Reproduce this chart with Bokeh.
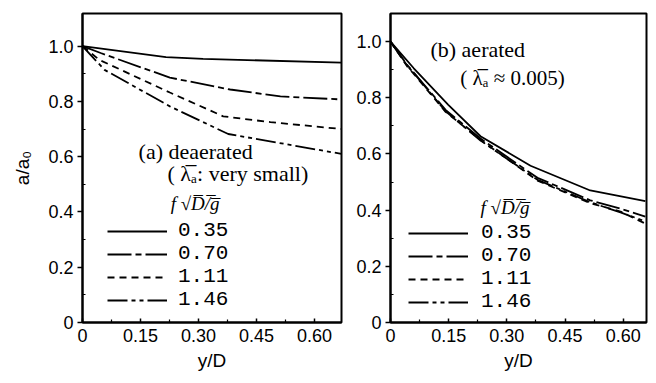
from bokeh.plotting import figure
from bokeh.layouts import row
from bokeh.models import FixedTicker, Range1d, Label, Legend, LegendItem
from bokeh.embed import file_html
from bokeh.resources import INLINE

# Dimensionless frequency f*sqrt(D/g) for each curve
freqs = ["0.35", "0.70", "1.11", "1.46"]
dashes = ["solid", "24 4 6 4", "7 5", "20 4 4 4 4 4"]

# (a) deaerated: amplitude ratio a/a0 against depth y/D
a_x_035 = [0, 0.216, 0.312, 0.67]
a_y_035 = [1.0, 0.96, 0.954, 0.94]
a_x_070 = [0, 0.047, 0.226, 0.382, 0.512, 0.67]
a_y_070 = [1.0, 0.975, 0.886, 0.843, 0.818, 0.807]
a_x_111 = [0, 0.044, 0.226, 0.364, 0.486, 0.67]
a_y_111 = [1.0, 0.95, 0.832, 0.746, 0.725, 0.70]
a_x_146 = [0, 0.057, 0.226, 0.377, 0.67]
a_y_146 = [1.0, 0.914, 0.782, 0.682, 0.61]

# (b) aerated
b_x_035 = [0, 0.06, 0.149, 0.232, 0.361, 0.515, 0.657]
b_y_035 = [1.0, 0.905, 0.775, 0.663, 0.558, 0.47, 0.432]
b_x_rest = [0, 0.044, 0.06, 0.142, 0.232, 0.379, 0.515, 0.593, 0.657]
b_y_070 = [1.0, 0.915, 0.89, 0.757, 0.655, 0.515, 0.435, 0.405, 0.377]
b_y_111 = [1.0, 0.91, 0.885, 0.75, 0.65, 0.505, 0.425, 0.395, 0.352]
b_y_146 = [1.0, 0.912, 0.888, 0.752, 0.648, 0.508, 0.428, 0.392, 0.36]

x_ticks = [0, 0.15, 0.30, 0.45, 0.60]
x_tick_labels = ["0", "0.15", "0.30", "0.45", "0.60"]
x_minor = [0.075, 0.225, 0.375, 0.525]
y_ticks = [0, 0.2, 0.4, 0.6, 0.8, 1.0]
y_tick_labels = ["0", "0.2", "0.4", "0.6", "0.8", "1.0"]
y_minor = [0.1, 0.3, 0.5, 0.7, 0.9]

SANS = "Liberation Sans"
SERIF = "Liberation Serif"
MONO = "Liberation Mono"


def make_panel(width, x_end, y_end, borders, ylabel):
    left, right, top, bottom = borders
    p = figure(width=width, height=383, output_backend="svg", toolbar_location=None,
               x_range=Range1d(0, x_end), y_range=Range1d(0, y_end),
               min_border_left=left, min_border_right=right,
               min_border_top=top, min_border_bottom=bottom)
    p.grid.visible = False
    p.outline_line_color = "black"
    p.outline_line_width = 2
    p.background_fill_color = "white"
    p.border_fill_color = "white"

    xa, ya = p.xaxis[0], p.yaxis[0]
    xa.ticker = FixedTicker(ticks=x_ticks, minor_ticks=x_minor)
    xa.major_label_overrides = dict(zip(x_ticks, x_tick_labels))
    ya.ticker = FixedTicker(ticks=y_ticks, minor_ticks=y_minor)
    ya.major_label_overrides = dict(zip(y_ticks, y_tick_labels))
    for ax in (xa, ya):
        ax.axis_line_width = 2
        ax.axis_line_color = "black"
        ax.major_tick_line_color = "black"
        ax.minor_tick_line_color = "black"
        ax.major_tick_line_width = 1.5
        ax.minor_tick_line_width = 1.2
        ax.major_label_text_font = SANS
        ax.major_label_text_font_size = "18px"
        ax.major_label_text_color = "black"
        ax.axis_label_text_font = SANS
        ax.axis_label_text_font_style = "normal"
        ax.axis_label_text_font_size = "19px"
        ax.axis_label_text_color = "black"
    xa.major_tick_in = 4
    xa.major_tick_out = 0
    xa.minor_tick_in = 3
    xa.minor_tick_out = 0
    xa.major_label_standoff = 6
    xa.axis_label = "y/D"
    xa.axis_label_standoff = 5
    ya.major_tick_in = 0
    ya.major_tick_out = 5
    ya.minor_tick_in = 3
    ya.minor_tick_out = 0
    ya.major_label_standoff = 4
    if ylabel:
        ya.axis_label = ylabel
        ya.axis_label_standoff = 12
    return p


def add_legend(p, renderers, loc, standoff):
    items = [LegendItem(label=f, renderers=[r]) for f, r in zip(freqs, renderers)]
    leg = Legend(items=items, location=loc, padding=0, margin=0,
                 border_line_color=None, background_fill_alpha=0,
                 glyph_width=60, glyph_height=20, label_height=20, spacing=0,
                 label_standoff=standoff, label_text_font=MONO,
                 label_text_font_size="21px", label_text_color="black")
    p.add_layout(leg)


def note(p, x, y, text, size="22px", style="normal"):
    p.add_layout(Label(x=x, y=y, text=text, text_font=SERIF, text_font_style=style,
                       text_font_size=size, text_color="black",
                       text_baseline="middle"))


# ---- (a) deaerated ----
pa = make_panel(343, 0.67, 1.118, (82, 2, 13, 57), "a/a₀")
ra = []
for xs, ys, d in zip([a_x_035, a_x_070, a_x_111, a_x_146],
                     [a_y_035, a_y_070, a_y_111, a_y_146], dashes):
    ra.append(pa.line(xs, ys, line_color="black", line_width=1.8, line_dash=d))
add_legend(pa, ra, (25, 11), 11)
note(pa, 0.145, 0.618, "(a)  deaerated")
note(pa, 0.22, 0.539, "( λ̅ₐ: very small)")
note(pa, 0.228, 0.432, "f √D̅/̅g̅", size="19px", style="italic")

# ---- (b) aerated ----
pb = make_panel(313, 0.66, 1.10, (47, 10, 8, 61), None)
rb = []
for xs, ys, d in zip([b_x_035, b_x_rest, b_x_rest, b_x_rest],
                     [b_y_035, b_y_070, b_y_111, b_y_146], dashes):
    rb.append(pb.line(xs, ys, line_color="black", line_width=1.8, line_dash=d))
add_legend(pb, rb, (18, 9), 13)
note(pb, 0.103, 0.972, "(b)  aerated")
note(pb, 0.18, 0.87, "( λ̅ₐ ≈ 0.005)", size="21px")
note(pb, 0.232, 0.41, "f √D̅/̅g̅", size="19px", style="italic")

layout = row(pa, pb)
open("out.html", "w").write(file_html(layout, INLINE))
